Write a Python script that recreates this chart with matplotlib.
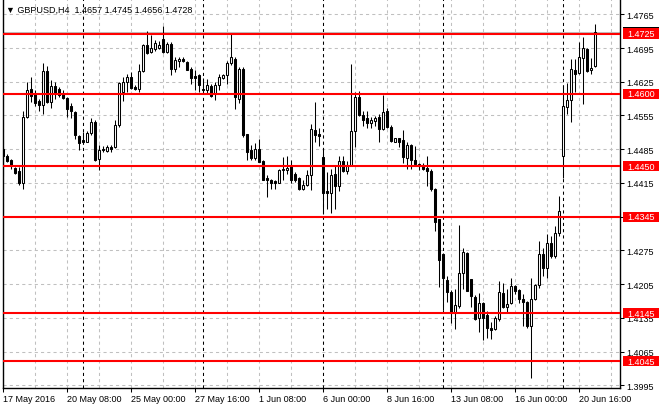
import numpy as np
import matplotlib
matplotlib.use("Agg")
import matplotlib.pyplot as plt
from matplotlib.patches import Rectangle
from matplotlib.transforms import blended_transform_factory

plt.rcParams['font.family'] = ['Liberation Sans', 'DejaVu Sans']

# GBPUSD H4 bars, 17 May 2016 16:00 .. 21 Jun 2016 08:00
opens = [1.4485, 1.4471, 1.4462, 1.4446, 1.4439, 1.4415, 1.4551, 1.4609, 1.4600, 1.4585,
         1.4576, 1.4648, 1.4582, 1.4617, 1.4610, 1.4602, 1.4592, 1.4574, 1.4562, 1.4512,
         1.4504, 1.4501, 1.4519, 1.4541, 1.4464, 1.4485, 1.4481, 1.4489, 1.4489, 1.4535,
         1.4604, 1.4625, 1.4634, 1.4615, 1.4611, 1.4648, 1.4701, 1.4687, 1.4692, 1.4695,
         1.4713, 1.4687, 1.4704, 1.4652, 1.4668, 1.4673, 1.4666, 1.4652, 1.4636, 1.4638,
         1.4609, 1.4608, 1.4616, 1.4600, 1.4618, 1.4633, 1.4638, 1.4663, 1.4673, 1.4590,
         1.4652, 1.4516, 1.4483, 1.4466, 1.4486, 1.4461, 1.4426, 1.4421, 1.4419, 1.4415,
         1.4442, 1.4441, 1.4450, 1.4434, 1.4426, 1.4403, 1.4410, 1.4431, 1.4525, 1.4517,
         1.4469, 1.4399, 1.4395, 1.4433, 1.4409, 1.4461, 1.4440, 1.4452, 1.4523, 1.4594,
         1.4556, 1.4549, 1.4540, 1.4544, 1.4551, 1.4528, 1.4565, 1.4532, 1.4501, 1.4508,
         1.4505, 1.4466, 1.4493, 1.4463, 1.4454, 1.4452, 1.4447, 1.4439, 1.4403, 1.4340,
         1.4267, 1.4214, 1.4188, 1.4146, 1.4160, 1.4229, 1.4270, 1.4215, 1.4179, 1.4135,
         1.4165, 1.4142, 1.4115, 1.4113, 1.4133, 1.4187, 1.4157, 1.4165, 1.4201, 1.4192,
         1.4175, 1.4168, 1.4118, 1.4175, 1.4203, 1.4268, 1.4239, 1.4290, 1.4263, 1.4312,
         1.4470, 1.4573, 1.4587, 1.4650, 1.4643, 1.4675, 1.4692, 1.4649, 1.4657]
highs = [1.4489, 1.4476, 1.4464, 1.4448, 1.4448, 1.4564, 1.4625, 1.4635, 1.4607, 1.4590,
         1.4663, 1.4657, 1.4628, 1.4625, 1.4614, 1.4607, 1.4593, 1.4580, 1.4564, 1.4514,
         1.4521, 1.4523, 1.4550, 1.4545, 1.4493, 1.4491, 1.4494, 1.4494, 1.4546, 1.4625,
         1.4635, 1.4641, 1.4646, 1.4618, 1.4661, 1.4703, 1.4731, 1.4722, 1.4711, 1.4709,
         1.4740, 1.4708, 1.4708, 1.4677, 1.4677, 1.4677, 1.4668, 1.4656, 1.4650, 1.4642,
         1.4632, 1.4630, 1.4621, 1.4625, 1.4642, 1.4642, 1.4668, 1.4725, 1.4677, 1.4656,
         1.4656, 1.4517, 1.4493, 1.4498, 1.4507, 1.4463, 1.4431, 1.4424, 1.4422, 1.4443,
         1.4469, 1.4470, 1.4462, 1.4438, 1.4427, 1.4421, 1.4441, 1.4538, 1.4582, 1.4530,
         1.4485, 1.4437, 1.4444, 1.4451, 1.4471, 1.4471, 1.4461, 1.4662, 1.4603, 1.4606,
         1.4565, 1.4565, 1.4551, 1.4554, 1.4558, 1.4597, 1.4570, 1.4535, 1.4509, 1.4509,
         1.4525, 1.4499, 1.4495, 1.4491, 1.4456, 1.4456, 1.4470, 1.4444, 1.4405, 1.4341,
         1.4269, 1.4221, 1.4193, 1.4194, 1.4327, 1.4281, 1.4272, 1.4216, 1.4182, 1.4187,
         1.4168, 1.4149, 1.4126, 1.4139, 1.4212, 1.4208, 1.4194, 1.4218, 1.4203, 1.4194,
         1.4184, 1.4170, 1.4218, 1.4205, 1.4295, 1.4281, 1.4310, 1.4306, 1.4326, 1.4388,
         1.4618, 1.4622, 1.4672, 1.4672, 1.4708, 1.4717, 1.4696, 1.4675, 1.4745]
lows = [1.4430, 1.4458, 1.4443, 1.4433, 1.4410, 1.4402, 1.4549, 1.4583, 1.4574, 1.4564,
        1.4558, 1.4580, 1.4571, 1.4590, 1.4593, 1.4590, 1.4551, 1.4549, 1.4507, 1.4484,
        1.4496, 1.4499, 1.4515, 1.4460, 1.4441, 1.4479, 1.4479, 1.4479, 1.4487, 1.4532,
        1.4585, 1.4604, 1.4609, 1.4607, 1.4604, 1.4645, 1.4682, 1.4685, 1.4689, 1.4693,
        1.4684, 1.4685, 1.4638, 1.4645, 1.4656, 1.4666, 1.4649, 1.4620, 1.4607, 1.4604,
        1.4604, 1.4600, 1.4594, 1.4587, 1.4607, 1.4630, 1.4621, 1.4659, 1.4569, 1.4580,
        1.4511, 1.4462, 1.4463, 1.4462, 1.4459, 1.4421, 1.4386, 1.4403, 1.4403, 1.4414,
        1.4421, 1.4434, 1.4415, 1.4417, 1.4400, 1.4400, 1.4408, 1.4400, 1.4499, 1.4492,
        1.4350, 1.4361, 1.4352, 1.4360, 1.4399, 1.4437, 1.4433, 1.4451, 1.4489, 1.4554,
        1.4534, 1.4530, 1.4530, 1.4534, 1.4499, 1.4525, 1.4530, 1.4499, 1.4499, 1.4489,
        1.4457, 1.4444, 1.4444, 1.4452, 1.4442, 1.4442, 1.4408, 1.4399, 1.4315, 1.4200,
        1.4152, 1.4168, 1.4125, 1.4113, 1.4156, 1.4194, 1.4191, 1.4158, 1.4131, 1.4106,
        1.4090, 1.4094, 1.4092, 1.4110, 1.4128, 1.4156, 1.4146, 1.4163, 1.4184, 1.4165,
        1.4118, 1.4115, 1.4011, 1.4172, 1.4198, 1.4222, 1.4218, 1.4260, 1.4260, 1.4305,
        1.4426, 1.4558, 1.4542, 1.4603, 1.4641, 1.4578, 1.4645, 1.4641, 1.4656]
closes = [1.4470, 1.4461, 1.4452, 1.4436, 1.4415, 1.4552, 1.4607, 1.4595, 1.4580, 1.4576,
          1.4648, 1.4582, 1.4617, 1.4600, 1.4597, 1.4592, 1.4569, 1.4564, 1.4514, 1.4498,
          1.4501, 1.4519, 1.4541, 1.4462, 1.4484, 1.4483, 1.4489, 1.4486, 1.4535, 1.4623,
          1.4625, 1.4634, 1.4613, 1.4611, 1.4648, 1.4701, 1.4685, 1.4696, 1.4706, 1.4701,
          1.4687, 1.4703, 1.4652, 1.4671, 1.4673, 1.4668, 1.4650, 1.4632, 1.4633, 1.4618,
          1.4608, 1.4618, 1.4595, 1.4618, 1.4634, 1.4638, 1.4663, 1.4677, 1.4594, 1.4652,
          1.4514, 1.4479, 1.4466, 1.4486, 1.4459, 1.4422, 1.4421, 1.4415, 1.4415, 1.4441,
          1.4443, 1.4447, 1.4421, 1.4421, 1.4402, 1.4410, 1.4432, 1.4528, 1.4514, 1.4513,
          1.4395, 1.4395, 1.4431, 1.4409, 1.4461, 1.4440, 1.4452, 1.4523, 1.4594, 1.4556,
          1.4546, 1.4540, 1.4546, 1.4549, 1.4528, 1.4563, 1.4532, 1.4502, 1.4508, 1.4500,
          1.4468, 1.4493, 1.4463, 1.4454, 1.4451, 1.4445, 1.4440, 1.4403, 1.4334, 1.4255,
          1.4217, 1.4188, 1.4146, 1.4161, 1.4228, 1.4271, 1.4191, 1.4180, 1.4133, 1.4165,
          1.4135, 1.4115, 1.4110, 1.4135, 1.4189, 1.4158, 1.4164, 1.4202, 1.4191, 1.4175,
          1.4168, 1.4118, 1.4175, 1.4203, 1.4268, 1.4239, 1.4291, 1.4263, 1.4312, 1.4357,
          1.4575, 1.4587, 1.4651, 1.4641, 1.4677, 1.4694, 1.4648, 1.4654, 1.4728]

time_labels = ["17 May 2016", "20 May 08:00", "25 May 00:00", "27 May 16:00", "1 Jun 08:00",
               "6 Jun 00:00", "8 Jun 16:00", "13 Jun 08:00", "16 Jun 00:00", "20 Jun 16:00"]
label_bars = [0, 16, 32, 48, 64, 80, 96, 112, 128, 144]
week_starts = [20, 50, 80, 110, 140]

price_ticks = [1.3995, 1.4065, 1.4135, 1.4205, 1.4275, 1.4345,
               1.4415, 1.4485, 1.4555, 1.4625, 1.4695, 1.4765]
levels = [1.4725, 1.4600, 1.4450, 1.4345, 1.4145, 1.4045]
bid = 1.4728
title = "\u25bc GBPUSD,H4  1.4657 1.4745 1.4656 1.4728"

o = np.array(opens)
h = np.array(highs)
l = np.array(lows)
c = np.array(closes)
x = np.arange(len(o))
up = c >= o

fig = plt.figure(figsize=(6.6, 4.1), dpi=100)
ax = fig.add_axes([2.5 / 660, 21 / 410, 617.5 / 660, 389 / 410])
ax.set_xlim(-0.125, 154.25)
ax.set_ylim(1.39896, 1.47967)

# grid
ax.set_yticks(price_ticks)
ax.set_yticklabels(["%.4f" % p for p in price_ticks])
ax.set_xticks(label_bars)
ax.set_xticklabels(time_labels, ha='left')
ax.set_xticks(np.arange(0, 155, 8), minor=True)
ax.grid(True, which='both', color='#c0c0c0', linestyle=(0, (3, 3)), linewidth=0.75)
ax.set_axisbelow(True)

for w in week_starts:
    ax.axvline(w, color='black', linestyle=(0, (3, 3)), linewidth=0.75, zorder=1.5)

ax.axhline(bid, color='#c0c0c0', linewidth=0.75, zorder=1.6)

# candles
bottom = np.minimum(o, c)
height = np.maximum(np.abs(c - o), 0.00003)
ax.vlines(x, l, h, color='black', linewidth=0.75, zorder=3)
ax.bar(x[up], height[up], bottom=bottom[up], width=0.5, facecolor='white',
       edgecolor='black', linewidth=0.75, zorder=4)
ax.bar(x[~up], height[~up], bottom=bottom[~up], width=0.5, facecolor='black',
       edgecolor='black', linewidth=0.75, zorder=4)

for lv in levels:
    ax.axhline(lv, color='#ff0000', linewidth=1.5, zorder=5)

# axes styling
ax.yaxis.tick_right()
ax.tick_params(axis='y', which='major', length=3, width=0.75, pad=1.5, labelsize=6.5, direction='out')
ax.tick_params(axis='x', which='major', length=3, width=0.75, pad=1.5, labelsize=6.5, direction='out')
ax.tick_params(axis='x', which='minor', length=0)
ax.spines['top'].set_visible(False)
for s in ['left', 'right', 'bottom']:
    ax.spines[s].set_linewidth(1)
    ax.spines[s].set_color('black')

# price labels on the right
trans = blended_transform_factory(ax.transAxes, ax.transData)
px = 0.0002075
bx0 = 1.0 + 2.5 / 617.5
bw = 36.5 / 617.5
ax.add_patch(Rectangle((bx0, bid - 5.2 * px), bw, 10.4 * px, transform=trans,
                       facecolor='black', edgecolor='none', clip_on=False, zorder=6))
for lv in levels:
    ax.add_patch(Rectangle((bx0, lv - 5.2 * px), bw, 10.4 * px, transform=trans,
                           facecolor='#ff0000', edgecolor='none', clip_on=False, zorder=7))
    ax.text(bx0 + bw / 2, lv, "%.4f" % lv, transform=trans, color='white', fontsize=6.5,
            ha='center', va='center', clip_on=False, zorder=8)

fig.text(6 / 660, 1 - 10 / 410, title, fontsize=6.5, ha='left', va='center')

fig.savefig("out.png", dpi=100)
